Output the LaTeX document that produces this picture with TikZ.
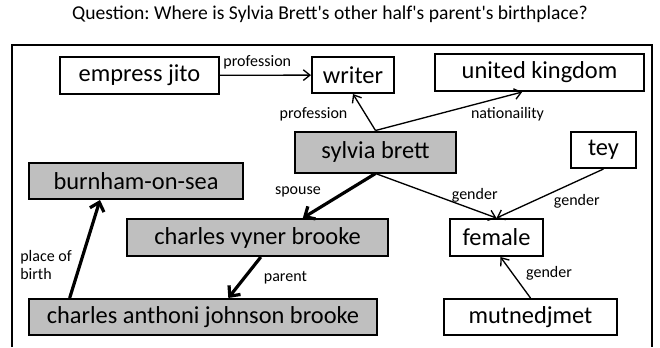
\documentclass[tikz,border=0pt]{standalone}
\usepackage{fontspec}
\setmainfont{Carlito}
\usetikzlibrary{arrows.meta, positioning}
\definecolor{pathgray}{RGB}{191,191,191}
\frenchspacing
\tikzset{
  entity/.style={draw, line width=1.5pt, inner sep=0pt, font=\fontsize{18.3}{22}\selectfont},
  onpath/.style={entity, fill=pathgray},
  rel/.style={-{Straight Barb[length=5pt, width=8pt]}, line width=1pt},
  hop/.style={-{Straight Barb[length=6pt, width=11pt]}, line width=2.4pt},
  lbl/.style={inner sep=1pt, font=\fontsize{12}{13.5}\selectfont},
}
\newcommand{\apos}{\textquotesingle}

\begin{document}
\begin{tikzpicture}[x=0.75pt, y=-0.75pt]
\useasboundingbox (0,0) rectangle (660,347);
\node[font=\fontsize{14.7}{17}\selectfont] (question) at (330,14.5) {Question: Where is Sylvia Brett\apos s other half\apos s parent\apos s birthplace?};
\draw[line width=1.1pt] (12,347) -- (12,45) -- (652,45) -- (652,347);

\node[entity, minimum width=119.25pt, minimum height=27.75pt] (empress) at (139.5,75.5) {empress jito};
\node[entity, minimum width=61.5pt, minimum height=27pt] (writer) at (353,75) {writer};
\node[entity, minimum width=156.75pt, minimum height=27.75pt] (uk) at (539.5,72.5) {united kingdom};
\node[onpath, minimum width=120.75pt, minimum height=30.75pt] (sylvia) at (375.5,152) {sylvia brett};
\node[entity, minimum width=48.75pt, minimum height=27pt] (tey) at (603.5,150) {tey};
\node[onpath, minimum width=160.5pt, minimum height=27pt] (burnham) at (136,181) {burnham-on-sea};
\node[onpath, minimum width=195.75pt, minimum height=27.75pt] (vyner) at (257.5,237.5) {charles vyner brooke};
\node[entity, minimum width=69.75pt, minimum height=27.75pt] (female) at (496.5,237.5) {female};
\node[onpath, minimum width=261pt, minimum height=27pt] (anthoni) at (203,317) {charles anthoni johnson brooke};
\node[entity, minimum width=129.75pt, minimum height=27pt] (mutnedjmet) at (530.5,317) {mutnedjmet};

\draw[rel] (empress) -- node[lbl, pos=0.41, above=3pt] {profession} (writer);
\draw[rel] (sylvia.north) -- node[lbl, pos=0.45, left=12pt] {profession} (writer.south);
\draw[rel] (sylvia.north) -- node[lbl, pos=0.9, below=7.5pt] {nationaility} ([xshift=-13pt]uk.south);
\draw[hop] (sylvia.south) -- node[lbl, pos=0.41, left=16.5pt] {spouse} ([xshift=34pt]vyner.north);
\draw[hop] ([xshift=2.5pt]vyner.south) -- node[lbl, pos=0.51, right=12.5pt] {parent} ([xshift=19pt]anthoni.north);
\draw[hop] ([xshift=-100pt]anthoni.north) -- node[lbl, pos=0.34, left=4pt, align=left] {place of\\birth} ([xshift=-27pt]burnham.south);
\draw[rel] (sylvia.south) -- node[lbl, pos=0.82, above=4.5pt] {gender} (female.north);
\draw[rel] (tey.south) -- node[lbl, pos=0.25, below=8.5pt] {gender} (female.north);
\draw[rel] (mutnedjmet.north) -- node[lbl, pos=0.6, right=8.75pt] {gender} ([xshift=3pt]female.south);
\end{tikzpicture}
\end{document}
